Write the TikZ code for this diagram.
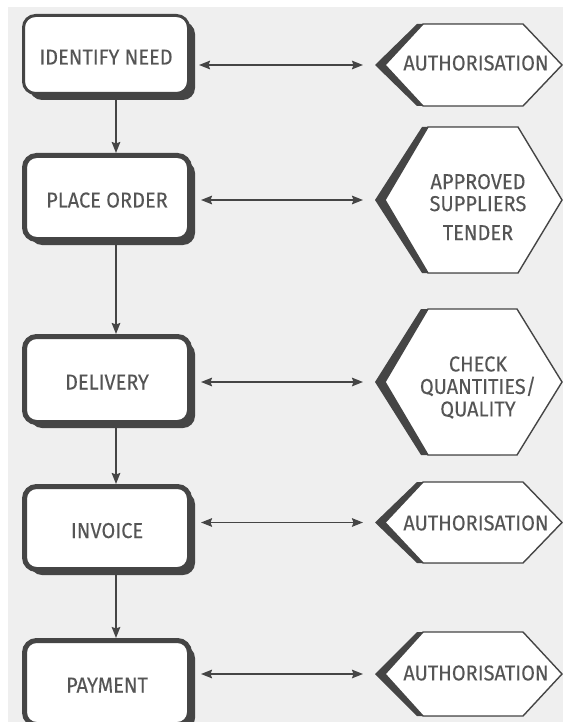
\documentclass[tikz,border=0pt]{standalone}
\usepackage{fontspec}
\setmainfont[FakeStretch=0.93,FakeBold=0.12]{Fira Sans}
\usetikzlibrary{arrows.meta,shadows}
\definecolor{bg}{HTML}{EFEFEF}
\definecolor{ink}{HTML}{454545}
\definecolor{txt}{HTML}{555555}

\begin{document}
\begin{tikzpicture}[x=1pt,y=-1pt,
  label text/.style={font=\fontsize{21.5}{22}\selectfont, text=txt, align=center},
  stepbox/.style={label text, draw=ink, fill=white, rounded corners=12pt,
    minimum width=165pt, line width=5pt, text depth=0pt, text height=20pt,
    general shadow={shadow xshift=5.5pt, shadow yshift=-5.5pt, fill=ink}},
  firstbox/.style={stepbox, line width=3pt,
    general shadow={shadow xshift=6.5pt, shadow yshift=-6.5pt, fill=ink}},
  hexback/.style={fill=ink},
  hexface/.style={fill=white, draw=ink, line width=1.4pt, line join=miter},
  flow/.style={draw=ink, line width=1.8pt,
    -{Stealth[length=11pt,width=8.5pt,inset=1.5pt]}},
  link/.style={draw=ink, line width=1.8pt,
    {Stealth[length=11pt,width=8.5pt,inset=1.5pt]}-{Stealth[length=11pt,width=8.5pt,inset=1.5pt]},
    shorten <=9pt, shorten >=12pt}
]
\useasboundingbox (0,0) rectangle (563,722);
\clip (0,0) rectangle (563,722);
\fill[white] (0,0) rectangle (563,722);
\fill[bg] (8,7) rectangle (563,722);

% process steps
\node[firstbox, minimum height=78pt] (b1) at (106,54.5) {IDENTIFY NEED};
\node[stepbox, minimum height=84pt] (b2) at (107,197.5) {PLACE ORDER};
\node[stepbox, minimum height=86pt] (b3) at (107,379.5) {DELIVERY};
\node[stepbox, minimum height=83pt] (b4) at (107,528) {INVOICE};
\node[stepbox, minimum height=84pt] (b5) at (107,682.5) {PAYMENT};

% controls (hexagons with a dark left edge)
% 1
\fill[hexback] (417,24) -- (375,65) -- (417,106) -- (500,106) -- (500,24) -- cycle;
\draw[hexface] (423,24) -- (523,24) -- (562,65) -- (523,106) -- (423,106) -- (385,65) -- cycle;
\coordinate (h1) at (375,65);
\node[label text] (t1) at (476,63) {AUTHORISATION};
% 2
\fill[hexback] (422,127) -- (375,200) -- (422,273) -- (500,273) -- (500,127) -- cycle;
\draw[hexface] (428,127) -- (518,127) -- (562,200) -- (518,273) -- (428,273) -- (385,200) -- cycle;
\coordinate (h2) at (375,200);
\node[label text] (t2) at (478,207) {APPROVED\\SUPPLIERS\\[7pt]TENDER};
% 3
\fill[hexback] (421,309) -- (375,382) -- (421,455) -- (500,455) -- (500,309) -- cycle;
\draw[hexface] (428,309) -- (517,309) -- (562,382) -- (517,455) -- (428,455) -- (385,382) -- cycle;
\coordinate (h3) at (375,382);
\node[label text, font=\fontsize{21.5}{22.5}\selectfont] (t3) at (478,387.5) {CHECK\\QUANTITIES/\\QUALITY};
% 4
\fill[hexback] (417,482) -- (375,522.5) -- (417,563) -- (500,563) -- (500,482) -- cycle;
\draw[hexface] (423,482) -- (523,482) -- (562,522.5) -- (523,563) -- (423,563) -- (385,522.5) -- cycle;
\coordinate (h4) at (375,522.5);
\node[label text] (t4) at (476,523) {AUTHORISATION};
% 5
\fill[hexback] (417,632) -- (375,674) -- (417,716) -- (500,716) -- (500,632) -- cycle;
\draw[hexface] (423,632) -- (523,632) -- (562,674) -- (523,716) -- (423,716) -- (385,674) -- cycle;
\coordinate (h5) at (375,674);
\node[label text] (t5) at (476,673) {AUTHORISATION};

% flow between steps
\coordinate (col) at (116,0);
\draw[flow] (b1.south -| col) -- (b2.north -| col);
\draw[flow] (b2.south -| col) -- (b3.north -| col);
\draw[flow] (b3.south -| col) -- (b4.north -| col);
\draw[flow] (b4.south -| col) -- (b5.north -| col);

% links to controls
\draw[link] (b1.east |- h1) -- (h1);
\draw[link] (b2.east |- h2) -- (h2);
\draw[link] (b3.east |- h3) -- (h3);
\draw[link] (b4.east |- h4) -- (h4);
\draw[link] (b5.east |- h5) -- (h5);
\end{tikzpicture}
\end{document}
